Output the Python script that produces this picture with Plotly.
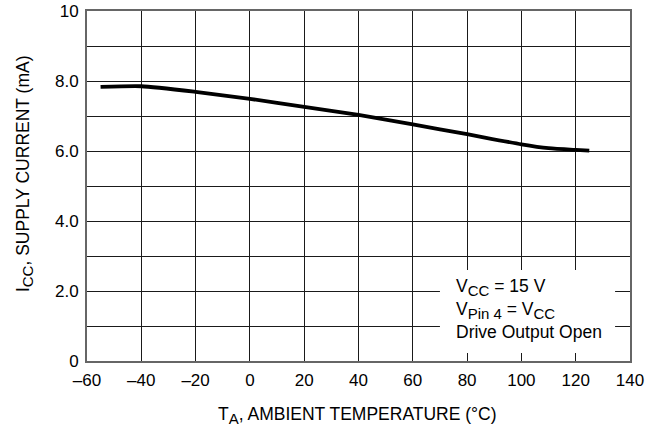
import plotly.graph_objects as go

# Data
temp_c = [-55, -40, -20, 0, 20, 40, 60, 80, 100, 110, 120, 125]
icc_ma = [7.83, 7.85, 7.69, 7.49, 7.26, 7.03, 6.76, 6.48, 6.19, 6.08, 6.03, 6.01]

x_tick_vals = [-60, -40, -20, 0, 20, 40, 60, 80, 100, 120, 140]
x_tick_text = ["\u201360", "\u201340", "\u201320", "0", "20", "40", "60", "80", "100", "120", "140"]
y_tick_vals = [0, 2, 4, 6, 8, 10]
y_tick_text = ["0", "2.0", "4.0", "6.0", "8.0", "10"]

FONT = "Liberation Sans, Arial, Helvetica, sans-serif"


def sub(t, size):
    return f"<sub><span style='font-size:{size}px'>{t}</span></sub>"


fig = go.Figure()
fig.add_trace(go.Scatter(
    x=temp_c, y=icc_ma, mode="lines",
    line=dict(color="black", width=3.8, shape="spline", smoothing=0.6),
    showlegend=False, hoverinfo="skip",
))

axis_common = dict(
    showgrid=True, gridcolor="#1a1a1a", gridwidth=1,
    showline=True, linecolor="#666666", linewidth=2, mirror=True,
    zeroline=False, ticks="", automargin=False,
    tickfont=dict(family=FONT, size=17, color="black"),
)

fig.update_xaxes(range=[-60, 140], tickmode="array", tickvals=x_tick_vals,
                 ticktext=x_tick_text, ticklabelstandoff=3, **axis_common)
fig.update_yaxes(range=[0, 10], tickmode="array", tickvals=y_tick_vals,
                 ticktext=y_tick_text, ticklabelstandoff=3,
                 minor=dict(dtick=1, tick0=0, showgrid=True, gridcolor="#1a1a1a",
                            gridwidth=1, ticks=""),
                 **axis_common)

# White box behind the conditions text
fig.add_shape(type="rect", xref="x", yref="y", x0=70, x1=134.5, y0=0.23, y1=2.6,
              fillcolor="white", line=dict(width=0), layer="above")

cond_lines = [
    ("V" + sub("CC", 15) + " = 15 V", 2.1),
    ("V" + sub("Pin 4", 15) + " = V" + sub("CC", 15), 1.43),
    ("Drive Output Open", 0.82),
]
for txt, yy in cond_lines:
    fig.add_annotation(x=75.0, y=yy, xref="x", yref="y", text=txt, showarrow=False,
                       xanchor="left", yanchor="middle",
                       font=dict(family=FONT, size=17.5, color="black"))

fig.add_annotation(x=0.498, y=-0.155, xref="paper", yref="paper",
                   text="T" + sub("A", 15) + ", AMBIENT TEMPERATURE (\u00b0C)", showarrow=False,
                   xanchor="center", yanchor="middle",
                   font=dict(family=FONT, size=17.5, color="black"))
fig.add_annotation(x=-0.116, y=0.534, xref="paper", yref="paper",
                   text="I" + sub("CC", 15) + ", SUPPLY CURRENT (mA)", showarrow=False,
                   textangle=-90, xanchor="center", yanchor="middle",
                   font=dict(family=FONT, size=17.5, color="black"))

fig.update_layout(
    template="none",
    width=657, height=431,
    margin=dict(l=87, r=27, t=11, b=70, autoexpand=False),
    paper_bgcolor="white", plot_bgcolor="white",
    font=dict(family=FONT, color="black"),
)

# Remove the browser's default 8 px body margin so the figure fills the window
fig.write_html("out.html",
               config={"displayModeBar": False, "staticPlot": True},
               post_script="document.body.style.margin='0';document.body.style.overflow='hidden';")
